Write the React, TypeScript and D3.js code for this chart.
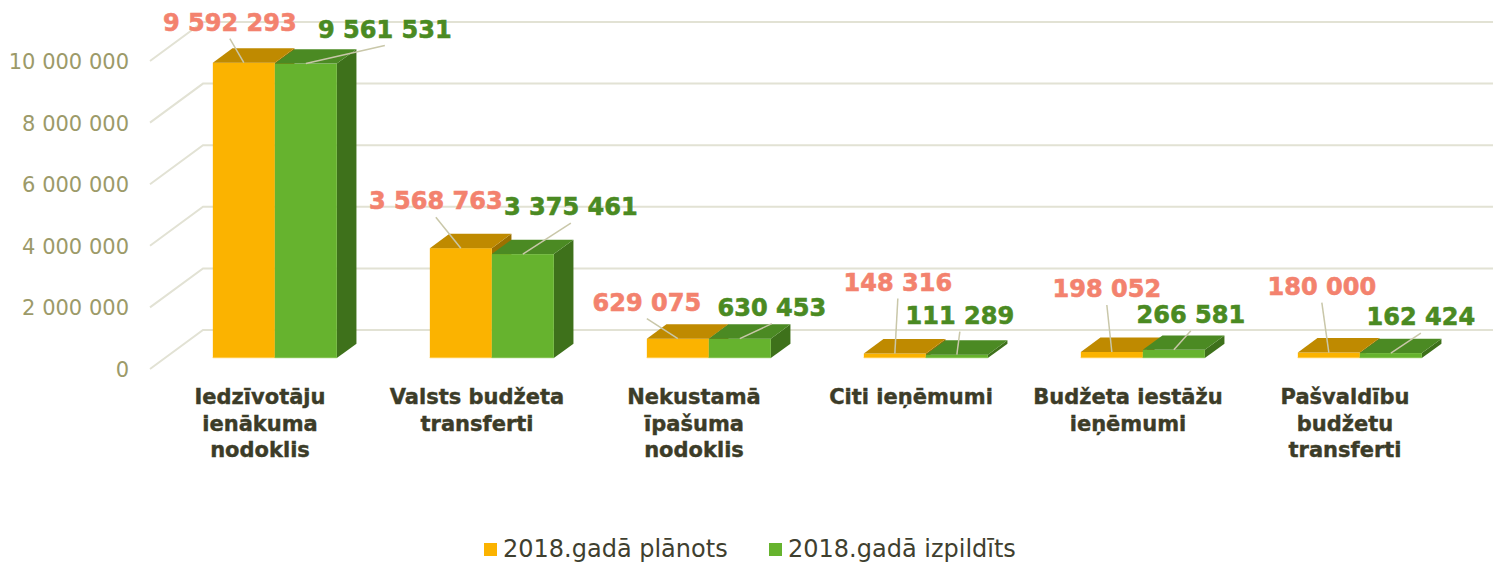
import React from 'react';
import * as d3 from 'd3';

// kategorijas (ar rindu pārnesumiem kā attēlā)
const kategorijas = [
  'Iedzīvotāju\nienākuma\nnodoklis',
  'Valsts budžeta\ntransferti',
  'Nekustamā\nīpašuma\nnodoklis',
  'Citi ieņēmumi',
  'Budžeta iestāžu\nieņēmumi',
  'Pašvaldību\nbudžetu\ntransferti',
];

const serijas = ['2018.gadā plānots', '2018.gadā izpildīts'];

const planots = [9592293, 3568763, 629075, 148316, 198052, 180000];
const izpildits = [9561531, 3375461, 630453, 111289, 266581, 162424];

const asisTicks = [0, 2000000, 4000000, 6000000, 8000000, 10000000];

// etiķešu novietojums attiecībā pret stabiņa augšu (tikai izkārtojums)
const etiketesPlanots = [[-14, -32], [-25, -39], [-31, -28], [3, -63], [-5, -55], [-7, -58]];
const etiketesIzpildits = [[79, -26], [48, -39], [32, -23], [3, -31], [17, -27], [30, -28]];

const W = 1493;
const H = 563;

const krasas = {
  planots: { front: '#FBB300', top: '#BF8A00', side: '#9C7000', edge: '#FFCB4A' },
  izpildits: { front: '#66B32E', top: '#4B8A23', side: '#3E711B', edge: '#86C553' },
};

const fmt = (v: number) => d3.format(',')(v).replace(/,/g, ' ');

export default function App() {
  const floorX = 150;
  const floorY = 369;
  const depth = { dx: 53, dy: -39 };
  const f0 = 0.28;
  const f1 = 0.65;

  const y = d3.scaleLinear().domain([0, 10000000]).range([floorY, floorY - 308]);
  const k = (v: number) => y(0) - y(v);

  const x = d3
    .scaleBand<string>()
    .domain(kategorijas)
    .range([floorX + 1.5, floorX + 1.5 + 6 * 217])
    .paddingInner(1 - 124 / 217)
    .paddingOuter((1 - 124 / 217) / 2);

  const xs = d3.scaleBand<string>().domain(serijas).range([0, x.bandwidth()]);

  const frontOff = { dx: depth.dx * f0, dy: depth.dy * f0 };
  const bd = { dx: depth.dx * (f1 - f0), dy: depth.dy * (f1 - f0) };

  const series = [
    { name: serijas[0], values: planots, c: krasas.planots, offs: etiketesPlanots, label: '#F3826E' },
    { name: serijas[1], values: izpildits, c: krasas.izpildits, offs: etiketesIzpildits, label: '#4A8A22' },
  ];

  const bars: JSX.Element[] = [];
  const labels: JSX.Element[] = [];

  kategorijas.forEach((cat, i) => {
    series.forEach((s, si) => {
      const v = s.values[i];
      const x0 = (x(cat) as number) + (xs(s.name) as number) + frontOff.dx;
      const x1 = x0 + xs.bandwidth();
      const yb = floorY + frontOff.dy;
      const yt = yb - k(v);
      const top = `M${x0},${yt}L${x1},${yt}L${x1 + bd.dx},${yt + bd.dy}L${x0 + bd.dx},${yt + bd.dy}Z`;
      const side = `M${x1},${yt}L${x1},${yb}L${x1 + bd.dx},${yb + bd.dy}L${x1 + bd.dx},${yt + bd.dy}Z`;
      bars.push(
        <g key={`b${i}-${si}`}>
          <path d={side} fill={s.c.side} />
          <rect x={x0} y={yt} width={x1 - x0} height={yb - yt} fill={s.c.front} />
          <line x1={x0} x2={x1} y1={yb - 0.5} y2={yb - 0.5} stroke={s.c.edge} strokeWidth={1} />
          <path d={top} fill={s.c.top} />
        </g>
      );
      const ax = (x0 + x1) / 2;
      const lx = ax + s.offs[i][0];
      const ly = yt + s.offs[i][1];
      labels.push(
        <g key={`l${i}-${si}`}>
          <line x1={lx} y1={ly + 8} x2={ax} y2={yt} stroke="#C9C7A9" strokeWidth={1.5} />
          <text
            x={lx}
            y={ly}
            textAnchor="middle"
            fill={s.label}
            stroke={s.label}
            strokeWidth={0.6}
            fontFamily="DejaVu Sans, Verdana, sans-serif"
            fontWeight="bold"
            fontSize={24}
          >
            {fmt(v)}
          </text>
        </g>
      );
    });
  });

  return (
    <svg
      width={W}
      height={H}
      style={{ position: 'absolute', left: 0, top: 0, background: '#fff' }}
      fontFamily="DejaVu Sans, Verdana, sans-serif"
    >
      {/* režģa līnijas */}
      {asisTicks.map((t) => (
        <g key={t}>
          <polyline
            points={`${floorX},${y(t)} ${floorX + depth.dx},${y(t) + depth.dy} ${W},${y(t) + depth.dy}`}
            fill="none"
            stroke="#E2E2D4"
            strokeWidth={2}
          />
          <text x={129} y={y(t) + 8} textAnchor="end" fill="#9C9A69" fontSize={21}>
            {fmt(t)}
          </text>
        </g>
      ))}

      {bars}

      {/* kategoriju nosaukumi */}
      {kategorijas.map((cat) => {
        const cx = (x(cat) as number) + x.bandwidth() / 2;
        return (
          <text
            key={cat}
            textAnchor="middle"
            fill="#3C3C28"
            stroke="#3C3C28"
            strokeWidth={0.4}
            fontWeight="bold"
            fontSize={21}
          >
            {cat.split('\n').map((ln, j) => (
              <tspan key={j} x={cx} y={404 + j * 26.5}>
                {ln}
              </tspan>
            ))}
          </text>
        );
      })}

      {labels}

      {/* leģenda */}
      {series.map((s, si) => {
        const lx = si === 0 ? 484 : 769;
        return (
          <g key={s.name}>
            <rect x={lx} y={543} width={13} height={13} fill={s.c.front} />
            <text x={lx + 19} y={557} fill="#3F3F2F" fontSize={24}>
              {s.name}
            </text>
          </g>
        );
      })}
    </svg>
  );
}
